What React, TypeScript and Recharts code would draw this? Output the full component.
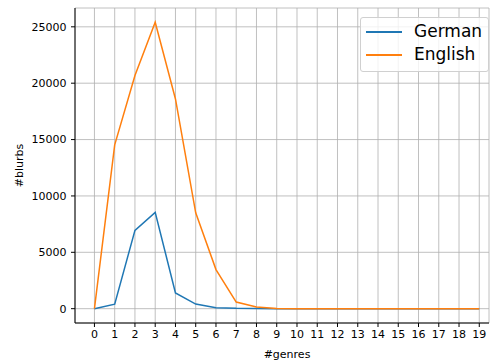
import { LineChart, Line, XAxis, YAxis, CartesianGrid } from "recharts";

const genres = [0, 1, 2, 3, 4, 5, 6, 7, 8, 9, 10, 11, 12, 13, 14, 15, 16, 17, 18, 19];
const german = [0, 400, 6950, 8540, 1390, 410, 90, 30, 10, 0, 0, 0, 0, 0, 0, 0, 0, 0, 0, 0];
const english = [0, 14530, 20680, 25400, 18600, 8500, 3470, 590, 150, 20, 0, 0, 0, 0, 0, 0, 0, 0, 0, 0];
const yTicks = [0, 5000, 10000, 15000, 20000, 25000];

const data = genres.map((g, i) => ({ genre: g, German: german[i], English: english[i] }));

const FONT = "'DejaVu Sans', sans-serif";

const legendItems = [
  { name: "German", color: "#1f77b4" },
  { name: "English", color: "#ff7f0e" },
];

const LegendBox = () => (
  <div
    style={{
      position: "absolute",
      left: 360,
      top: 17,
      width: 129,
      height: 55,
      border: "1px solid #d0d0d0",
      borderRadius: 3,
      background: "rgba(255,255,255,0.8)",
      boxSizing: "border-box",
      fontFamily: FONT,
      fontSize: 17,
      color: "#000",
    }}
  >
    {legendItems.map((it, i) => (
      <div key={it.name}>
        <div
          style={{
            position: "absolute",
            left: 5,
            top: 13 + i * 23,
            width: 36,
            height: 2,
            background: it.color,
          }}
        />
        <div
          style={{
            position: "absolute",
            left: 53,
            top: 13 + i * 23 - 10,
            lineHeight: "20px",
          }}
        >
          {it.name}
        </div>
      </div>
    ))}
  </div>
);

export default function App() {
  return (
    <div style={{ position: "absolute", left: 0, top: 0, width: 491, height: 363, background: "#fff" }}>
      <LineChart
        width={491}
        height={363}
        data={data}
        margin={{ top: 8, right: 2, left: 0, bottom: 0 }}
      >
        <CartesianGrid stroke="#b0b0b0" strokeWidth={0.8} />
        <XAxis
          dataKey="genre"
          type="number"
          domain={[-0.96, 19.48]}
          ticks={genres}
          interval={0}
          allowDataOverflow
          height={40}
          tickSize={4}
          tickMargin={3}
          stroke="#000"
          tick={{ fill: "#000", fontSize: 11, fontFamily: FONT }}
          label={{
            value: "#genres",
            position: "insideBottom",
            offset: 5,
            dx: 5,
            style: { fill: "#000", fontSize: 11, fontFamily: FONT },
          }}
        />
        <XAxis
          xAxisId="top"
          orientation="top"
          dataKey="genre"
          type="number"
          domain={[-0.96, 19.48]}
          height={0}
          tick={false}
          tickLine={false}
          stroke="#000"
        />
        <YAxis
          type="number"
          domain={[-1270, 26670]}
          ticks={yTicks}
          allowDataOverflow
          width={75}
          tickSize={4}
          tickMargin={4.5}
          stroke="#000"
          tick={{ fill: "#000", fontSize: 11, fontFamily: FONT }}
          label={{
            value: "#blurbs",
            angle: -90,
            position: "insideLeft",
            offset: 19,
            style: { fill: "#000", fontSize: 11, fontFamily: FONT, textAnchor: "middle" },
          }}
        />
        <YAxis
          yAxisId="right"
          orientation="right"
          type="number"
          domain={[-1270, 26670]}
          width={0}
          tick={false}
          tickLine={false}
          stroke="#000"
        />
        <Line
          dataKey="German"
          type="linear"
          stroke="#1f77b4"
          strokeWidth={1.5}
          dot={false}
          isAnimationActive={false}
        />
        <Line
          dataKey="English"
          type="linear"
          stroke="#ff7f0e"
          strokeWidth={1.5}
          dot={false}
          isAnimationActive={false}
        />
      </LineChart>
      <LegendBox />
    </div>
  );
}
